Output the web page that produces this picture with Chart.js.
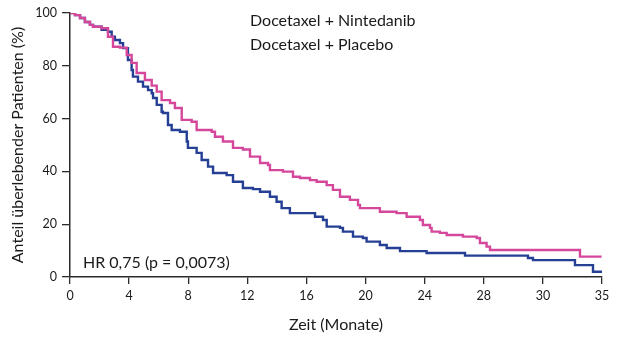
<!DOCTYPE html>
<html>
<head>
<meta charset="utf-8">
<script src="https://cdn.jsdelivr.net/npm/chart.js@4"></script>
<style>
  html, body { margin: 0; padding: 0; background: #fff; }
  #wrap { width: 620px; height: 339px; }
</style>
</head>
<body>
<div id="wrap"><canvas id="kmChart" width="620" height="339"></canvas></div>
<script>
// Kaplan-Meier steps: time (axis months) and survival (%)
var nintedanibMonths = [0, 0.34, 0.68, 1.01, 1.35, 1.56, 2.14, 2.57, 2.91, 3.38, 3.84, 4.17, 4.51, 5.07, 5.53, 5.87, 6.2, 6.77, 7.1, 7.56, 8.23, 8.57, 9.59, 9.81, 10.35, 11.03, 11.7, 12.18, 12.86, 13.4, 13.53, 14.41, 15.09, 15.56, 16.24, 16.69, 17.37, 17.79, 18.27, 18.94, 19.49, 19.62, 20.97, 22.1, 22.78, 23.68, 23.88, 24.36, 24.47, 25.03, 25.49, 26.59, 27.52, 27.74, 28.19, 28.42, 34.51, 35.97];
var nintedanibSurvival = [100, 99.2, 98.1, 96.6, 95.5, 94.8, 94.2, 91.0, 87.2, 86.9, 84.1, 81.1, 77.3, 74.6, 72.5, 70.2, 67.0, 65.9, 64.0, 59.5, 58.8, 55.7, 55.0, 53.1, 51.3, 48.9, 48.3, 45.6, 43.2, 42.4, 40.5, 39.9, 38.0, 37.5, 36.7, 36.1, 34.8, 33.0, 30.4, 29.2, 27.3, 26.1, 24.7, 24.2, 22.8, 21.6, 19.7, 18.6, 17.2, 16.7, 15.9, 15.3, 14.8, 12.9, 11.5, 10.2, 7.7, 7.7];

var placeboMonths = [0, 0.34, 0.68, 1.01, 1.35, 1.56, 2.14, 2.57, 2.82, 3.04, 3.38, 3.59, 3.92, 4.17, 4.26, 4.6, 4.94, 5.28, 5.53, 5.62, 5.87, 6.2, 6.29, 6.63, 6.88, 7.44, 7.9, 7.98, 8.57, 8.91, 9.34, 9.68, 10.6, 11.03, 11.7, 12.38, 12.86, 13.53, 13.98, 14.32, 14.88, 16.58, 17.12, 17.37, 18.27, 18.47, 19.15, 19.82, 20.07, 20.97, 21.43, 22.33, 24.13, 26.73, 30.99, 31.33, 34.17, 35.39, 36.0];
var placeboSurvival = [100, 99.2, 98.1, 96.6, 95.5, 94.8, 93.6, 92.9, 91.0, 89.8, 88.6, 86.7, 82.2, 78.4, 75.9, 74.0, 72.1, 70.8, 69.6, 67.8, 65.2, 62.6, 62.1, 57.6, 55.7, 55.0, 51.3, 48.9, 47.0, 44.3, 41.8, 39.4, 38.6, 36.1, 33.7, 33.3, 32.3, 30.4, 28.5, 26.1, 24.2, 22.8, 21.6, 19.1, 18.6, 17.2, 15.3, 14.8, 13.4, 12.1, 11.0, 9.8, 9.1, 8.1, 7.2, 6.4, 4.5, 2.0, 2.0];

// tick labels on the x axis (evenly spaced, the last two are labelled 30 and 35)
var xTickValues = [0, 4, 8, 12, 16, 20, 24, 28, 32, 36];
var xTickLabels = ["0", "4", "8", "12", "16", "20", "24", "28", "30", "35"];

var seriesNames = ["Docetaxel + Nintedanib", "Docetaxel + Placebo"];
var hrText = "HR 0,75 (p = 0,0073)";

function toPoints(xs, ys) {
  return xs.map(function(x, i) { return { x: x, y: ys[i] }; });
}

var fontFamily = "Lato, 'Open Sans', sans-serif";
var axisColor = "#2b2b2b";

// draws the legend lines and the HR note as plain text
var textPlugin = {
  id: "kmText",
  afterDraw: function(chart) {
    var ctx = chart.ctx;
    var area = chart.chartArea;
    ctx.save();
    ctx.fillStyle = "#1a1a1a";
    ctx.font = "16px " + fontFamily;
    ctx.textBaseline = "middle";
    ctx.textAlign = "left";
    ctx.fillText(seriesNames[0], area.left + 180, area.top + 8);
    ctx.fillText(seriesNames[1], area.left + 180, area.top + 32);
    ctx.fillText(hrText, area.left + 13, area.bottom - 14);
    ctx.restore();
  }
};

var ctx = document.getElementById("kmChart").getContext("2d");
new Chart(ctx, {
  type: "line",
  data: {
    datasets: [
      {
        label: seriesNames[0],
        data: toPoints(nintedanibMonths, nintedanibSurvival),
        borderColor: "#d4479b",
        borderWidth: 2.4,
        stepped: true,
        pointRadius: 0,
        fill: false
      },
      {
        label: seriesNames[1],
        data: toPoints(placeboMonths, placeboSurvival),
        borderColor: "#243f93",
        borderWidth: 2.4,
        stepped: true,
        pointRadius: 0,
        fill: false
      }
    ]
  },
  options: {
    responsive: false,
    animation: false,
    layout: { padding: { top: 13, right: 18, left: 0, bottom: 0 } },
    plugins: {
      legend: { display: false },
      tooltip: { enabled: false }
    },
    scales: {
      x: {
        type: "linear",
        min: 0,
        max: 36,
        afterBuildTicks: function(scale) {
          scale.ticks = xTickValues.map(function(v) { return { value: v }; });
        },
        afterFit: function(scale) { scale.height = 62; },
        ticks: {
          color: "#1a1a1a",
          font: { family: fontFamily, size: 12.5 },
          padding: 4,
          maxRotation: 0,
          callback: function(value) {
            var i = xTickValues.indexOf(value);
            return i >= 0 ? xTickLabels[i] : "";
          }
        },
        grid: { drawOnChartArea: false, drawTicks: true, tickLength: 7, color: axisColor, lineWidth: 1.3 },
        border: { display: true, color: axisColor, width: 1.5 },
        title: {
          display: true,
          text: "Zeit (Monate)",
          color: "#1a1a1a",
          font: { family: fontFamily, size: 16 },
          padding: { top: 0, bottom: 5 }
        }
      },
      y: {
        min: 0,
        max: 100,
        afterFit: function(scale) { scale.width = 70; },
        ticks: {
          stepSize: 20,
          color: "#1a1a1a",
          font: { family: fontFamily, size: 12.5 },
          padding: 5
        },
        grid: { drawOnChartArea: false, drawTicks: true, tickLength: 8, color: axisColor, lineWidth: 1.3 },
        border: { display: true, color: axisColor, width: 1.5 },
        title: {
          display: true,
          text: "Anteil überlebender Patienten (%)",
          color: "#1a1a1a",
          font: { family: fontFamily, size: 16 },
          padding: { top: 8, bottom: 0 }
        }
      }
    }
  },
  plugins: [textPlugin]
});
</script>
</body>
</html>
